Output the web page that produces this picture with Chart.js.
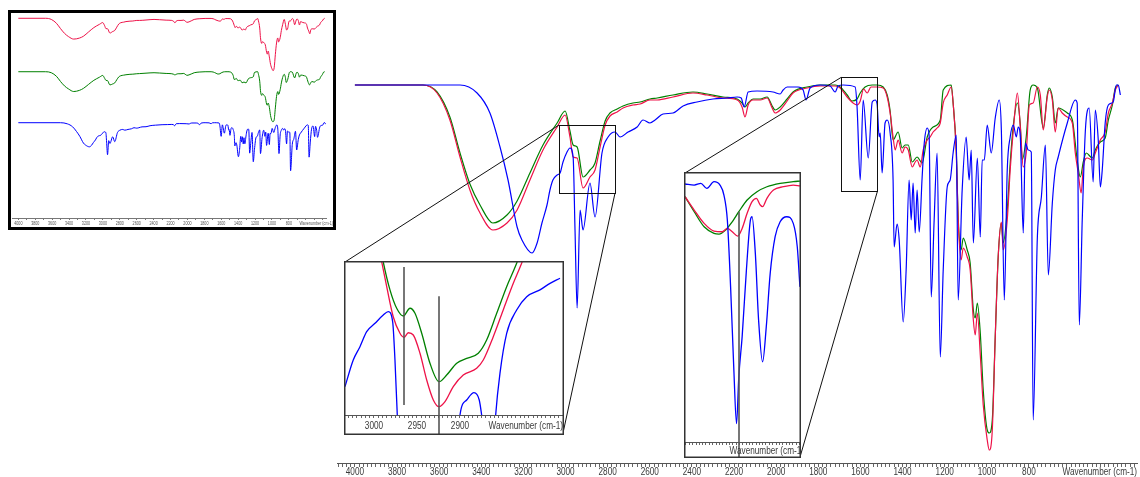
<!DOCTYPE html>
<html><head><meta charset="utf-8">
<script src="https://cdn.jsdelivr.net/npm/chart.js@4.4.1/dist/chart.umd.min.js"></script>
<style>
html,body{margin:0;padding:0;background:#fff;}
#wrap{position:relative;width:1140px;height:477px;overflow:hidden;background:#fff;}
canvas{position:absolute;display:block;}
</style></head><body>
<div id="wrap">
<canvas id="main" width="1140" height="477" style="left:0;top:0;width:1140px;height:477px"></canvas>
<canvas id="thumb" width="328" height="220" style="left:8px;top:10px;width:328px;height:220px"></canvas>
<canvas id="zoom1" width="220" height="174" style="left:344px;top:261px;width:220px;height:174px"></canvas>
<canvas id="zoom2" width="117" height="286" style="left:684px;top:172px;width:117px;height:286px"></canvas>
</div>
<script>
// ---------------- DATA (wavenumber cm-1, transmittance-like value) ----------------
const blue = [[4000,94.5],[3501,94.5],[3420,92.5],[3359,87.5],[3311,79],[3273,70.75],[3230,59],[3207,55.75],[3159,52.5],[3135,55],[3112,60],[3088,64.5],[3074,68.25],[3060,70.75],[3040,72],[3026,72.5],[3012,75.25],[2993,77.75],[2979,78.75],[2964,76.5],[2955,58.25],[2945,38.75],[2931,63.25],[2917,58.25],[2884,70],[2860,61.5],[2827,77.5],[2798,81.5],[2765,82.75],[2741,81.5],[2703,82.75],[2660,84],[2632,85.75],[2599,85],[2575,85.75],[2537,87.25],[2490,87.5],[2442,89.25],[2376,90.25],[2300,91],[2233,91.25],[2185,91.5],[2166,91.25],[2152,89],[2133,92.75],[2091,93],[2015,92.75],[1981,92.25],[1967,93.25],[1948,94],[1896,94],[1872,93.25],[1858,90.75],[1839,93.75],[1791,94.5],[1744,94.25],[1720,92.75],[1706,94.25],[1682,94.5],[1625,94],[1616,89],[1601,70.75],[1587,90.75],[1563,76.25],[1544,90.25],[1530,90.75],[1521,89.75],[1511,81.5],[1506,82.5],[1497,72.5],[1483,85],[1473,85.75],[1459,82.5],[1445,70.75],[1440,54],[1426,59.75],[1416,55.75],[1397,35.25],[1383,48.25],[1369,70.75],[1359,60.75],[1350,70],[1340,57.5],[1331,68.25],[1321,57.75],[1307,71.5],[1297,80],[1283,83.75],[1274,82],[1264,41.5],[1250,60.75],[1236,77.5],[1221,26.5],[1207,48.25],[1188,69],[1174,70.75],[1160,77.5],[1145,82],[1136,40.75],[1117,68.25],[1098,81.5],[1084,70.75],[1074,78.25],[1064,55],[1045,76.25],[1031,56.5],[1022,75.75],[1012,75.75],[998,84.5],[979,77.5],[960,86.25],[941,90.75],[931,83.25],[917,40.75],[903,73.25],[889,81.5],[874,84.5],[860,81.5],[851,84],[841,81.5],[827,57.5],[817,80],[803,78.25],[789,77.75],[780,10.75],[760,56.5],[741,66.5],[722,79.5],[708,47],[689,65],[675,73.25],[661,76.5],[618,85],[580,90.75],[571,90],[561,34.5],[547,60.75],[532,83.25],[514,88.75],[495,70.25],[485,88.25],[471,80.75],[461,69],[452,73.25],[438,85],[423,89.5],[400,90.25],[385,94.5],[376,94.5],[366,92]];

const red = [[4000,94.5],[3677,94.5],[3610,92.5],[3549,85.75],[3501,76.5],[3454,68.25],[3406,62.5],[3345,58.25],[3278,60],[3230,63.25],[3169,70.75],[3107,78.25],[3040,84],[3002,87],[2979,81.5],[2964,76.5],[2945,76.25],[2917,68.75],[2884,71.5],[2860,73.25],[2836,79],[2812,84.5],[2789,86.75],[2755,87.75],[2727,88.75],[2680,89.5],[2646,89.75],[2599,90.75],[2565,90.75],[2490,91.5],[2395,92.5],[2328,92],[2252,91.25],[2185,90.75],[2162,89],[2148,86.5],[2133,89.5],[2110,90.75],[2076,90.75],[2043,91.25],[2019,88.75],[2005,87.5],[1981,88.25],[1948,90.5],[1920,92.5],[1853,93.75],[1791,94.25],[1720,94.25],[1696,93.75],[1663,91.5],[1635,90],[1616,89.5],[1601,90.5],[1585,93.5],[1568,92.5],[1550,94],[1521,94],[1492,93.75],[1473,91.5],[1459,87.5],[1445,81.5],[1435,78.25],[1421,80.75],[1402,77.5],[1388,79],[1373,78.25],[1354,74],[1340,75.25],[1331,75.75],[1316,74],[1302,78.25],[1283,80.75],[1269,81.5],[1255,82.75],[1236,83.75],[1221,85],[1207,90],[1188,92],[1169,94],[1160,90],[1145,77.5],[1136,60.75],[1122,50.75],[1112,53.75],[1093,51.5],[1079,48.25],[1064,35.75],[1055,32],[1045,37.5],[1031,27],[1017,14.5],[998,5.75],[988,3.25],[974,8.25],[960,31.5],[946,51.5],[931,60.25],[922,53.25],[903,60.75],[889,73.25],[874,83.25],[855,92.5],[841,84],[827,74],[813,77.5],[798,89.5],[780,90],[760,94],[746,92],[732,83.25],[713,91.5],[704,93.25],[689,90.75],[675,82.75],[661,88.75],[642,87.5],[618,86.5],[594,85],[580,77.5],[566,72.5],[552,67.5],[542,74],[523,76.25],[499,75.75],[485,77.5],[461,80.75],[438,82.75],[423,87.5],[404,90],[390,93.25],[376,94.5]];

const green = [[4000,94.5],[3677,94.5],[3610,92.75],[3549,86.5],[3501,77.5],[3454,69.75],[3406,64.5],[3345,60],[3278,62],[3230,65.5],[3169,72.5],[3107,79.5],[3040,85],[3002,88],[2979,83],[2964,79.5],[2945,79],[2917,71.5],[2884,73.25],[2860,75],[2836,80.5],[2812,85.5],[2789,87.5],[2755,88.5],[2727,89.25],[2680,90],[2646,90.25],[2599,91],[2565,91.25],[2490,92],[2395,92.75],[2328,92.25],[2252,91.5],[2185,91],[2162,90],[2148,89],[2133,90],[2110,91],[2076,91],[2043,91.5],[2019,89.25],[2005,88.25],[1981,89],[1948,91],[1920,92.75],[1853,94],[1791,94.5],[1720,94.5],[1696,94],[1663,92],[1640,90.5],[1616,91],[1601,92.5],[1578,94],[1544,94.5],[1521,94.5],[1492,94],[1473,92],[1459,88],[1445,80.75],[1421,82.75],[1402,78.75],[1388,79.5],[1373,79.5],[1354,75.25],[1331,76.5],[1307,75],[1283,81.5],[1255,84],[1221,85.75],[1207,93.25],[1169,94.5],[1160,90],[1145,78],[1136,61.5],[1122,53.25],[1112,56.25],[1093,53.25],[1079,50],[1064,38.25],[1055,36.25],[1045,40],[1031,32.5],[1017,18.25],[998,8.25],[988,7.5],[974,10.75],[960,31.5],[946,51.5],[931,60],[922,55],[903,63.25],[889,75],[874,84.5],[855,90],[841,84.5],[832,75.75],[813,81.5],[794,93.25],[780,94.5],[760,93.75],[732,83.75],[713,92],[704,93.75],[689,91.5],[675,85],[661,88.75],[618,87.5],[594,85.75],[571,75.75],[556,71.5],[542,75.25],[528,77.5],[499,76.25],[485,78.25],[461,80.25],[438,81.25],[423,85.75],[404,89.5],[390,93.75],[376,94.5]];

// zoom inset 1 (C-H stretch region)
const zoom1Blue = [[3033.7,70.65],[3024.1,73.61],[3016.3,75.09],[3008.5,76.76],[2998.8,77.69],[2989.2,78.61],[2983.4,78.98],[2978.3,77.87],[2975.6,73.61],[2972.9,67.5],[2965,55],[2950,42],[2930,58],[2905,60],[2900,67.5],[2892.2,69.17],[2883.7,69.98],[2877.6,69.17],[2874.8,67.5],[2868,62],[2862,62],[2858.5,67.5],[2853.5,72.13],[2845.7,76.58],[2834.1,79.17],[2822.4,80.65],[2807,81.4],[2795.3,82.13],[2783.7,82.69]];
const zoom1Red = [[2996,87],[2991,84.5],[2985.2,81.76],[2977.6,78.42],[2969.8,76.58],[2965.1,76.13],[2960.1,76.64],[2954.3,76.39],[2946.5,74.36],[2938.7,71.39],[2931,69.17],[2924.4,68.42],[2917.4,68.98],[2907.8,70.65],[2896.2,71.94],[2880.6,72.69],[2872.9,73.61],[2861.3,76.2],[2849.7,79.17],[2838,82.13],[2828.3,84.36],[2822,86]];
const zoom1Green = [[2994,87],[2989.2,84.5],[2981.4,81.4],[2973.6,79.36],[2965.9,78.5],[2958.1,79.36],[2952.3,78.8],[2944.5,76.58],[2934.9,73.25],[2924.4,71.2],[2915.5,71.94],[2903.8,73.25],[2892.2,73.8],[2878.7,74.36],[2869,75.83],[2857.3,78.8],[2845.7,81.76],[2834.1,84.36],[2828,86]];
const zoom1Markers = [[2965.1,83.94,68.6],[2924.4,80.7]];   // [wavenumber, top value, bottom value]

// zoom inset 2 (1690-1520 region)
const zoom2Blue = [[1691.5,95.24],[1677.7,95.13],[1667.7,95.31],[1658.8,94.78],[1648,95.48],[1639,95.13],[1633.1,94.07],[1628,91.43],[1623.1,84.38],[1618.2,75.58],[1614.2,69.94],[1610.8,74.87],[1605.8,79.1],[1599.4,86.15],[1593.4,91.43],[1590.9,91.78],[1586,87.91],[1581.1,80.86],[1575.1,76.45],[1569.6,80.15],[1563.7,85.8],[1556.3,89.67],[1548.8,91.25],[1538.9,91.78],[1529.1,91.08],[1523.1,88.61],[1519.1,84.38]];
const zoom2Red = [[1691.5,93.9],[1677.7,92.49],[1662.8,91.08],[1648,90.27],[1635.5,90.2],[1628,90.55],[1620.6,90.2],[1612.3,89.74],[1605.8,90.55],[1598.3,92.14],[1590.9,93.37],[1584.5,93.73],[1578.6,93.02],[1575.1,92.84],[1568.6,93.73],[1558.8,94.6],[1544,94.95],[1529.1,95.13],[1519.1,95.03]];
const zoom2Green = [[1691.5,93.9],[1677.7,92.31],[1662.8,90.72],[1648,90.03],[1640.5,89.95],[1630.6,90.38],[1620.6,91.25],[1610.8,92.31],[1598.3,93.55],[1583.5,94.42],[1568.6,94.95],[1548.8,95.31],[1529.1,95.48],[1519.1,95.55]];
const zoom2Markers = [[1610.8,92.3]];

// tick labels
const mainTickLabels = [4000,3800,3600,3400,3200,3000,2800,2600,2400,2200,2000,1800,1600,1400,1200,1000,800];
const zoom1TickLabels = [3000,2950,2900];
const axisTitle = 'Wavenumber (cm-1)';

// source rectangles of the zoom insets (data space of the main plot)
const zoom1Source = {wnHigh:3031, wnLow:2765, tHigh:84.5, tLow:67.5};
const zoom2Source = {wnHigh:1691.5, wnLow:1519, tHigh:96.4, tLow:68};

// ---------------- STYLE / LAYOUT ----------------
const RED = 'rgb(238,18,72)', GREEN = 'rgb(0,128,0)', BLUE = 'rgb(0,0,255)';
const FONT = "'Liberation Sans',Arial,sans-serif";
const NARROW = 0.82;   // horizontal condensing to mimic a narrow sans face
Chart.defaults.font.family = FONT;
const zoom1Box = {left:344, top:261, width:220, height:174};
const zoom2Box = {left:684, top:172, width:117, height:286};

const toPts = arr => arr.map(p => ({x:p[0], y:p[1]}));
function ds(arr, color, w, axis){
  const d = {data: toPts(arr), borderColor: color, borderWidth: w, pointRadius: 0,
    fill: false, cubicInterpolationMode: 'monotone'};
  if (axis) d.yAxisID = axis;
  return d;
}
function stepTicks(from, to, step){ const t=[]; for(let v=from; v<=to+1e-9; v+=step) t.push({value: Math.round(v*100)/100}); return t; }
function narrowText(ctx, text, x, y, size, color, align){
  ctx.save();
  ctx.font = size + 'px ' + FONT; ctx.fillStyle = color;
  ctx.textAlign = align; ctx.textBaseline = 'alphabetic';
  ctx.translate(x, y); ctx.scale(NARROW, 1); ctx.fillText(text, 0, 0);
  ctx.restore();
}
function drawTickLabels(c, values, dy, size, color){
  const xs = c.scales.x;
  values.forEach(v => narrowText(c.ctx, String(v), xs.getPixelForValue(v), xs.top + dy, size, color, 'center'));
}

const whiteBg = {id:'whiteBg', beforeDraw(c){ const x=c.ctx; x.save(); x.fillStyle='#fff'; x.fillRect(0,0,c.width,c.height); x.restore(); }};
const hideLabels = () => '';

// ---------------- MAIN CHART ----------------
const mainOverlay = {
  id:'mainOverlay',
  afterDraw(c){
    const ctx = c.ctx, xs = c.scales.x, ys = c.scales.y;
    drawTickLabels(c, mainTickLabels, 12, 10, '#3a3a3a');
    narrowText(ctx, axisTitle, c.chartArea.right, xs.top + 12, 10, '#3a3a3a', 'right');
    ctx.save();
    ctx.strokeStyle = '#111'; ctx.lineWidth = 1;
    const rect = s => {
      const x1 = xs.getPixelForValue(s.wnHigh), x2 = xs.getPixelForValue(s.wnLow);
      const y1 = ys.getPixelForValue(s.tHigh), y2 = ys.getPixelForValue(s.tLow);
      ctx.strokeRect(Math.round(x1)+0.5, Math.round(y1)+0.5, Math.round(x2-x1), Math.round(y2-y1));
      return {x1, x2, y1, y2};
    };
    const line = (a,b,c2,d) => { ctx.beginPath(); ctx.moveTo(a,b); ctx.lineTo(c2,d); ctx.stroke(); };
    const r1 = rect(zoom1Source);
    line(zoom1Box.left+1, zoom1Box.top+1, r1.x1, r1.y1);
    line(r1.x2, r1.y2, zoom1Box.left+zoom1Box.width-1, zoom1Box.top+zoom1Box.height-2);
    const r2 = rect(zoom2Source);
    line(zoom2Box.left+1, zoom2Box.top+1, r2.x1, r2.y1);
    line(r2.x2, r2.y2, zoom2Box.left+zoom2Box.width-1, zoom2Box.top+zoom2Box.height-1);
    ctx.restore();
  }
};

new Chart(document.getElementById('main'), {
  type:'line',
  data:{datasets:[ ds(blue, BLUE, 1.2), ds(red, RED, 1.2), ds(green, GREEN, 1.2) ]},
  options:{
    responsive:false, animation:false, events:[],
    layout:{padding:{left:337, right:3, top:63, bottom:0}},
    plugins:{legend:{display:false}, tooltip:{enabled:false}},
    scales:{
      x:{type:'linear', reverse:true, min:287, max:4085,
        afterBuildTicks: s => { s.ticks = stepTicks(300, 4080, 20); },
        afterFit: s => { s.height = 14; },
        ticks:{autoSkip:false, maxRotation:0, minRotation:0, padding:1, font:{size:10}, callback: hideLabels},
        grid:{drawOnChartArea:false, drawTicks:true, tickLength:4, color:'#666'},
        border:{color:'#555', width:1}},
      y:{display:false, min:0, max:100}
    }
  },
  plugins:[whiteBg, mainOverlay]
});

// ---------------- THUMBNAIL (stacked overview) ----------------
const thumbOverlay = {
  id:'thumbOverlay',
  afterDraw(c){
    const ctx=c.ctx;
    drawTickLabels(c, mainTickLabels, 7, 4.5, '#555');
    narrowText(ctx, axisTitle, c.chartArea.right + 7, c.scales.x.top + 7, 4.5, '#555', 'right');
    ctx.save();
    ctx.strokeStyle='#000'; ctx.lineWidth=3; ctx.strokeRect(1.5,1.5,c.width-3,c.height-3);
    ctx.restore();
  }
};
new Chart(document.getElementById('thumb'), {
  type:'line',
  data:{datasets:[ ds(red, RED, 1, 'yr'), ds(green, GREEN, 1, 'yg'), ds(blue, BLUE, 1, 'yb') ]},
  options:{
    responsive:false, animation:false, events:[],
    layout:{padding:{left:4, right:10, top:3, bottom:3}},
    plugins:{legend:{display:false}, tooltip:{enabled:false}},
    scales:{
      x:{type:'linear', reverse:true, min:361, max:4075,
        afterBuildTicks: s => { s.ticks = stepTicks(400, 4000, 100); },
        afterFit: s => { s.height = 9; },
        ticks:{autoSkip:false, maxRotation:0, padding:1, font:{size:4}, callback: hideLabels},
        grid:{drawOnChartArea:false, tickLength:2, color:'#777'},
        border:{color:'#777', width:1}},
      yr:{display:false, min:-253.4, max:103.7},
      yg:{display:false, min:-160.3, max:196.8},
      yb:{display:false, min:-71.5, max:285.6}
    }
  },
  plugins:[whiteBg, thumbOverlay]
});

// ---------------- ZOOM INSETS ----------------
function insetOverlay(markers, labels, labelDy, titleOffset, titleDy){
  return {
    id:'insetOverlay',
    afterDraw(c){
      const ctx=c.ctx, xs=c.scales.x, ys=c.scales.y;
      ctx.save();
      ctx.strokeStyle='#555'; ctx.lineWidth=1.6;
      markers.forEach(m => {
        const x = Math.round(xs.getPixelForValue(m[0]));
        const y1 = ys.getPixelForValue(m[1]);
        const y2 = m[2] !== undefined ? ys.getPixelForValue(m[2]) : c.height;
        ctx.beginPath(); ctx.moveTo(x, y1); ctx.lineTo(x, y2); ctx.stroke();
      });
      ctx.restore();
      drawTickLabels(c, labels, labelDy, 10, '#3a3a3a');
      narrowText(ctx, axisTitle, c.chartArea.right + titleOffset, xs.top + titleDy, 10, '#3a3a3a', 'right');
      ctx.save();
      ctx.strokeStyle='#333'; ctx.lineWidth=1.5; ctx.strokeRect(0.75,0.75,c.width-1.5,c.height-1.5);
      ctx.restore();
    }
  };
}

new Chart(document.getElementById('zoom1'), {
  type:'line',
  data:{datasets:[ ds(zoom1Blue, BLUE, 1.3), ds(zoom1Red, RED, 1.3), ds(zoom1Green, GREEN, 1.3) ]},
  options:{
    responsive:false, animation:false, events:[],
    layout:{padding:{left:1, right:1, top:1, bottom:0}},
    plugins:{legend:{display:false}, tooltip:{enabled:false}},
    scales:{
      x:{type:'linear', reverse:true, min:2780.2, max:3033.7,
        afterBuildTicks: s => { s.ticks = stepTicks(2785, 3030, 5); },
        afterFit: s => { s.height = 20; },
        ticks:{autoSkip:false, maxRotation:0, padding:1, font:{size:10}, callback: hideLabels},
        grid:{drawOnChartArea:false, tickLength:3, color:'#666'},
        border:{color:'#555', width:1}},
      y:{display:false, min:67.5, max:84.5}
    }
  },
  plugins:[whiteBg, insetOverlay(zoom1Markers, zoom1TickLabels, 14, 0, 14)]
});

new Chart(document.getElementById('zoom2'), {
  type:'line',
  data:{datasets:[ ds(zoom2Blue, BLUE, 1.3), ds(zoom2Red, RED, 1.3), ds(zoom2Green, GREEN, 1.3) ]},
  options:{
    responsive:false, animation:false, events:[],
    layout:{padding:{left:1, right:1, top:1, bottom:0}},
    plugins:{legend:{display:false}, tooltip:{enabled:false}},
    scales:{
      x:{type:'linear', reverse:true, min:1519, max:1691.5,
        afterBuildTicks: s => { s.ticks = stepTicks(1520, 1690, 5); },
        afterFit: s => { s.height = 16; },
        ticks:{autoSkip:false, maxRotation:0, padding:1, font:{size:10}, callback: hideLabels},
        grid:{drawOnChartArea:false, tickLength:3, color:'#666'},
        border:{color:'#555', width:1}},
      y:{display:false, min:68, max:96.4}
    }
  },
  plugins:[whiteBg, insetOverlay(zoom2Markers, [], 0, 4, 12)]
});
</script>
</body></html>
